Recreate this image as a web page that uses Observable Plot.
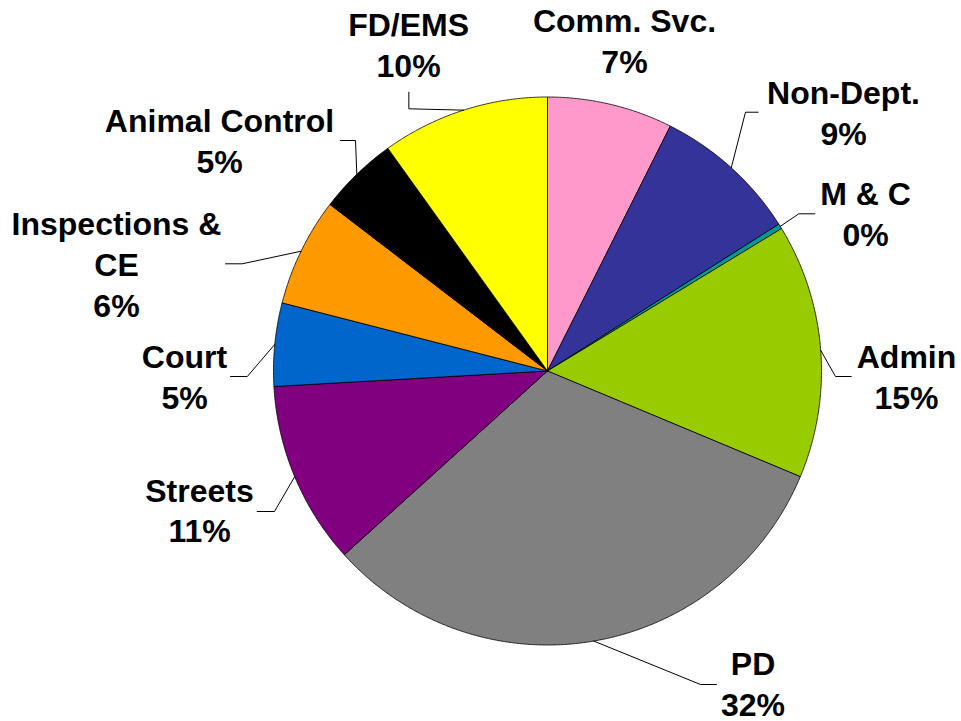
<!DOCTYPE html>
<html>
<head>
<meta charset="utf-8">
<script src="https://cdn.jsdelivr.net/npm/d3@7"></script>
<script src="https://cdn.jsdelivr.net/npm/@observablehq/plot@0.6"></script>
<style>
  html, body { margin: 0; padding: 0; background: #fff; overflow: hidden; }
  #chart svg { display: block; }
</style>
</head>
<body>
<div id="chart"></div>
<script>
// ---- data (clockwise from 12 o'clock) ----
const categories = ["Comm. Svc.", "Non-Dept.", "M & C", "Admin", "PD", "Streets", "Court", "Inspections &\nCE", "Animal Control", "FD/EMS"];
const shares = [7.4, 8.6, 0.3, 15.0, 32.0, 10.8, 4.9, 6.4, 4.7, 9.9];
const colors = ["#FF99CC", "#333399", "#009999", "#99CC00", "#808080", "#800080", "#0066CC", "#FF9900", "#000000", "#FFFF00"];

// ---- label layout (in pie-radius units, relative to pie centre) ----
// [labelX, lastBaselineY, leaderStartX, leaderElbowX, leaderY]
const labelLayout = [
  [0.281, 1.0869, null, null, null],
  [1.0803, 0.8255, 0.7690, 0.7226, 0.9445],
  [1.1606, 0.4555, 0.9755, 0.9172, 0.5737],
  [1.3102, -0.138, 1.1084, 1.0511, -0.0201],
  [0.750, -1.2573, 0.6168, 0.5584, -1.1442],
  [-1.270, -0.6259, -1.0595, -0.9964, -0.5128],
  [-1.3248, -0.138, -1.157, -1.0956, -0.0201],
  [-1.573, 0.1964, -1.1752, -1.1142, 0.3912],
  [-1.197, 0.7219, -0.7555, -0.7007, 0.8412],
  [-0.507, 1.0748, -0.506, -0.506, 1.0175]
];

const W = 961, H = 721, R = 274, CX = 547, CY = 370.5;

const rows = categories.map((c, i) => ({name: c, value: shares[i], color: colors[i], i}));
const total = d3.sum(shares);
const arcs = d3.pie().sort(null).value(d => d.value).startAngle(0).endAngle(2 * Math.PI)(rows);

const sliceMarks = arcs.map(a => {
  const pts = [{x: 0, y: 0}];
  const n = Math.max(2, Math.ceil((a.endAngle - a.startAngle) / 0.005));
  for (let k = 0; k <= n; k++) {
    const t = a.startAngle + (a.endAngle - a.startAngle) * k / n;
    pts.push({x: Math.sin(t), y: Math.cos(t)});
  }
  pts.push({x: 0, y: 0});
  return Plot.line(pts, {x: "x", y: "y", fill: a.data.color, stroke: "#000", strokeWidth: 0.8, strokeLinejoin: "round"});
});

const leaders = [];
arcs.forEach((a, i) => {
  const L = labelLayout[i];
  if (L[2] == null) return;
  const m = (a.startAngle + a.endAngle) / 2;
  leaders.push({z: i, x: L[2], y: L[4]});
  leaders.push({z: i, x: L[3], y: i === 9 ? 0.9569 : L[4]});
  leaders.push({z: i, x: Math.sin(m), y: Math.cos(m)});
});

const labels = arcs.map((a, i) => ({
  x: labelLayout[i][0],
  y: labelLayout[i][1],
  text: a.data.name + "\n" + Math.round(a.data.value / total * 100) + "%"
}));

const chart = Plot.plot({
  width: W,
  height: H,
  margin: 0,
  x: {domain: [-CX / R, (W - CX) / R], axis: null},
  y: {domain: [-(H - CY) / R, CY / R], axis: null},
  style: {background: "#fff", overflow: "visible"},
  marks: [
    ...sliceMarks,
    Plot.line(leaders, {x: "x", y: "y", z: "z", stroke: "#000", strokeWidth: 1}),
    Plot.text(labels, {
      x: "x", y: "y", text: "text",
      lineAnchor: "bottom", lineHeight: 1.28,
      fontSize: 32, fontWeight: "bold",
      fontFamily: "Liberation Sans, Arial, sans-serif",
      fill: "#000", textAnchor: "middle"
    })
  ]
});
document.getElementById("chart").appendChild(chart);
</script>
</body>
</html>
